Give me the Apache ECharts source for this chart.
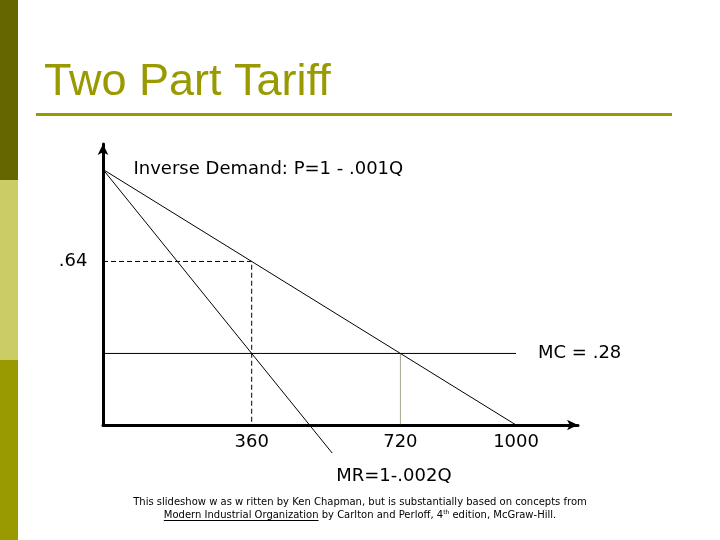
<!DOCTYPE html>
<html><head><meta charset="utf-8">
<script src="https://cdn.jsdelivr.net/npm/echarts@6/dist/echarts.min.js"></script>
<style>html,body{margin:0;padding:0;background:#fff}#c{width:720px;height:540px}</style>
</head><body><div id="c"></div>
<script>
// ---- data ----
const titleText = 'Two Part Tariff';
const demandQ = [0, 1000];
const demandP = [1, 0];
const mrQ = [0, 555];
const mrP = [1, -0.11];
const mcQ = [0, 1000];
const mcP = [0.28, 0.28];
const monopolyQ = 360;
const monopolyP = 0.64;
const efficientQ = 720;
const efficientP = 0.28;
const qTickValues = [360, 720, 1000];
const qTickLabels = ['360', '720', '1000'];
const pTickValues = [0.64];
const pTickLabels = ['.64'];
const demandLabel = 'Inverse Demand: P=1 - .001Q';
const mrLabel = 'MR=1-.002Q';
const mcLabel = 'MC = .28';
const footer1 = 'This slideshow w as w ritten by Ken Chapman, but is substantially based on concepts from';
const footerBook = 'Modern Industrial Organization';
const footerRest1 = ' by Carlton and Perloff, 4';
const footerSup = 'th';
const footerRest2 = ' edition, McGraw-Hill.';

const FONT = '"DejaVu Sans", Verdana, sans-serif';
const olive = '#999900';
const FOOT = '10px "DejaVu Sans"';
const SUP = '6px "DejaVu Sans"';

const zip = (a, b) => a.map((v, i) => [v, b[i]]);

// footer measurement
const ctx = document.createElement('canvas').getContext('2d');
ctx.font = FOOT;
const wBook = ctx.measureText(footerBook).width;
const wR1 = ctx.measureText(footerRest1).width;
const wR2 = ctx.measureText(footerRest2).width;
ctx.font = SUP;
const wSup = ctx.measureText(footerSup).width;
const total2 = wBook + wR1 + wSup + wR2;
const x2 = 360 - total2 / 2;

const chart = echarts.init(document.getElementById('c'), null, {renderer: 'canvas'});
const txt = {color: '#000000', fontFamily: FONT, fontSize: 18, opacity: 1, textBorderWidth: 0};
const hidden = {opacity: 0};

chart.setOption({
  animation: false,
  backgroundColor: '#fff',
  grid: {left: 103, right: 142, top: 143.9, bottom: 115},
  xAxis: {
    type: 'value', min: 0, max: 1150,
    axisLine: {show: true, symbol: ['none', 'arrow'], symbolSize: [8, 11], lineStyle: {color: '#000', width: 3}},
    axisTick: {show: false}, axisLabel: {show: false}, splitLine: {show: false}
  },
  yAxis: {
    type: 'value', min: 0, max: 1.1,
    axisLine: {show: true, symbol: ['none', 'arrow'], symbolSize: [8, 11], lineStyle: {color: '#000', width: 3}},
    axisTick: {show: false}, axisLabel: {show: false}, splitLine: {show: false}
  },
  series: [
    {type: 'line', data: zip(demandQ, demandP), symbol: 'none', lineStyle: {color: '#000', width: 1}, z: 3},
    {type: 'line', data: zip(mrQ, mrP), symbol: 'none', clip: false, lineStyle: {color: '#000', width: 1}, z: 3,
      endLabel: {show: true, formatter: mrLabel, ...txt, distance: 4, offset: [0, 23]}},
    {type: 'line', data: zip(mcQ, mcP), symbol: 'none', lineStyle: {color: '#000', width: 1}, z: 3,
      endLabel: {show: true, formatter: mcLabel, ...txt, distance: 22}},
    {type: 'line', data: [[0, monopolyP], [monopolyQ, monopolyP], [monopolyQ, 0]], symbol: 'none',
      lineStyle: {color: '#000', width: 1, type: [5, 3]}, z: 2},
    {type: 'line', data: [[efficientQ, efficientP], [efficientQ, 0]], symbol: 'none',
      lineStyle: {color: '#4a4a10', width: 1, type: [1, 1]}, z: 2},
    {type: 'scatter', data: qTickValues.map((q, i) => ({value: [q, 0], name: qTickLabels[i]})), symbolSize: 1,
      itemStyle: hidden, emphasis: {disabled: true}, label: {show: true, position: 'bottom', distance: 8, formatter: p => p.name, ...txt}},
    {type: 'scatter', data: pTickValues.map((p, i) => ({value: [0, p], name: pTickLabels[i]})), symbolSize: 1,
      itemStyle: hidden, emphasis: {disabled: true}, label: {show: true, position: 'left', distance: 15, formatter: p => p.name, ...txt}},
    {type: 'scatter', data: [{value: [demandQ[0], demandP[0]], name: demandLabel}], symbolSize: 1,
      itemStyle: hidden, emphasis: {disabled: true}, label: {show: true, position: 'right', distance: 30, formatter: p => p.name, ...txt}}
  ],
  graphic: [
    {type: 'rect', shape: {x: 0, y: 0, width: 18, height: 180}, style: {fill: '#666600'}},
    {type: 'rect', shape: {x: 0, y: 180, width: 18, height: 180}, style: {fill: '#cccc66'}},
    {type: 'rect', shape: {x: 0, y: 360, width: 18, height: 180}, style: {fill: '#999900'}},
    {type: 'text', style: {text: titleText, x: 44, y: 83, fill: olive, font: '45px "Liberation Sans", Arial, sans-serif', verticalAlign: 'middle'}},
    {type: 'rect', shape: {x: 36, y: 113, width: 636, height: 3}, style: {fill: olive}},
    {type: 'text', style: {text: footer1, x: 360, y: 502, align: 'center', verticalAlign: 'middle', fill: '#000', font: FOOT}},
    {type: 'text', style: {text: footerBook, x: x2, y: 515, align: 'left', verticalAlign: 'middle', fill: '#000', font: FOOT}},
    {type: 'rect', shape: {x: x2, y: 520, width: wBook, height: 1}, style: {fill: '#000'}},
    {type: 'text', style: {text: footerRest1, x: x2 + wBook, y: 515, align: 'left', verticalAlign: 'middle', fill: '#000', font: FOOT}},
    {type: 'text', style: {text: footerSup, x: x2 + wBook + wR1, y: 512, align: 'left', verticalAlign: 'middle', fill: '#000', font: SUP}},
    {type: 'text', style: {text: footerRest2, x: x2 + wBook + wR1 + wSup, y: 515, align: 'left', verticalAlign: 'middle', fill: '#000', font: FOOT}}
  ]
});
</script></body></html>
